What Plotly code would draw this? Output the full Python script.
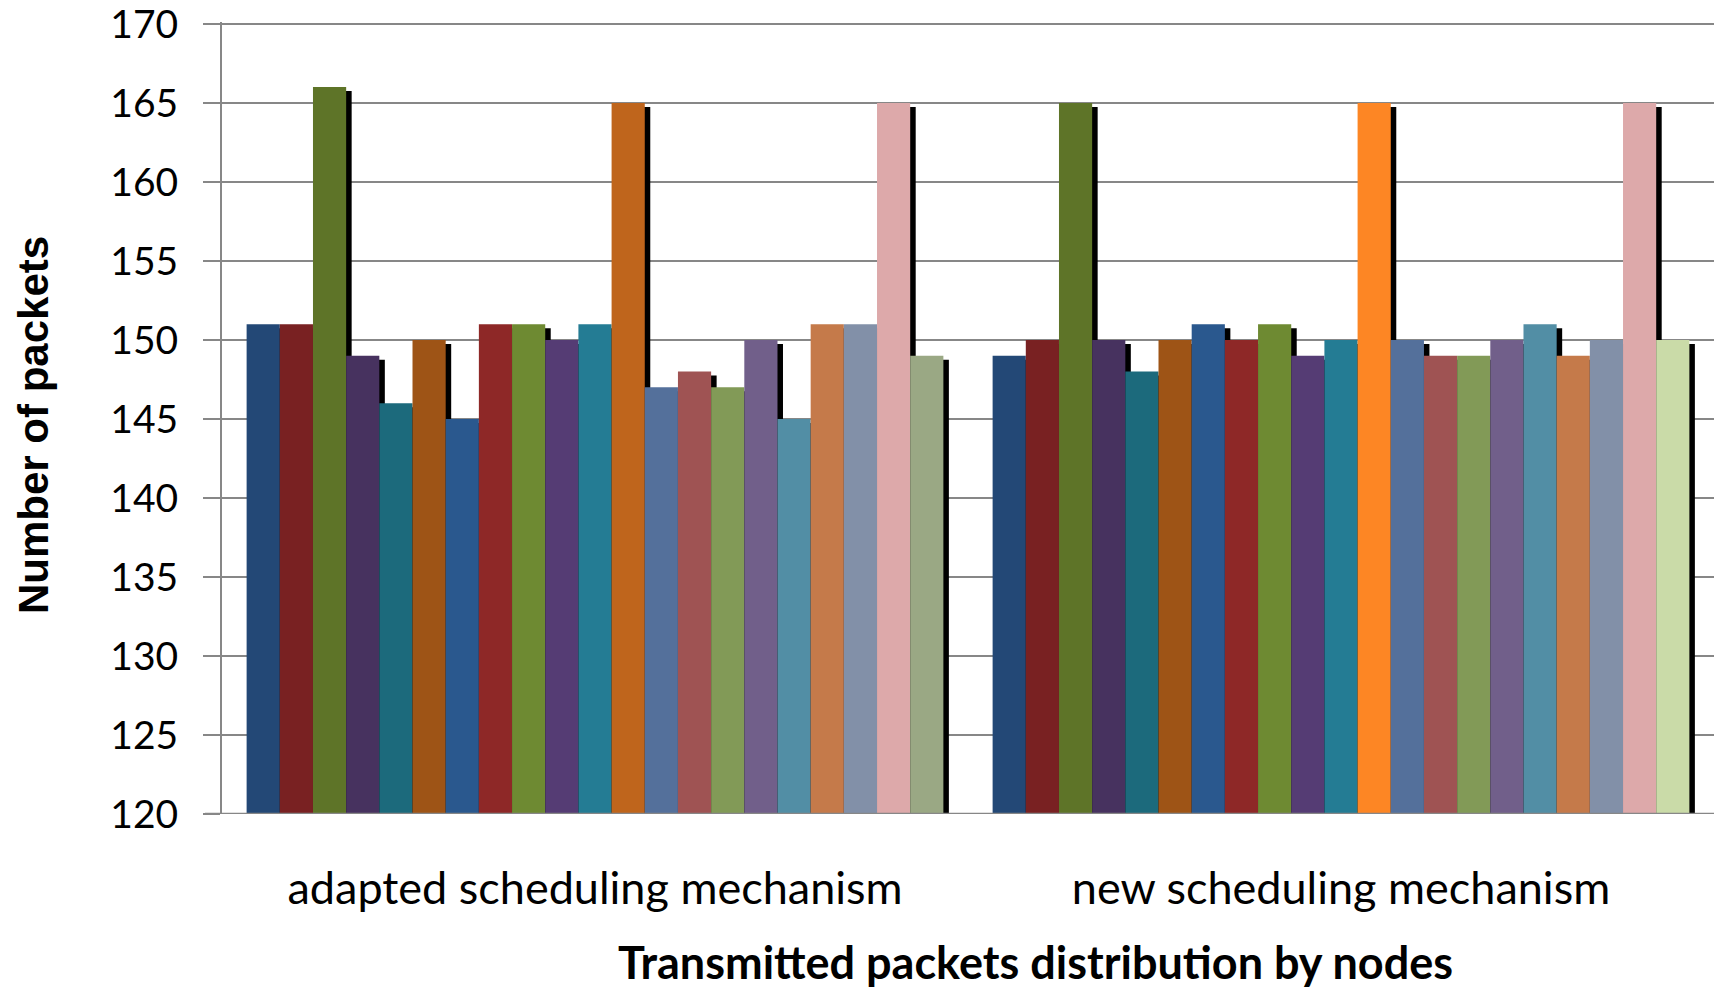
import plotly.graph_objects as go

categories = ["adapted scheduling mechanism", "new scheduling mechanism"]

adapted_values = [151, 151, 166, 149, 146, 150, 145, 151, 151, 150, 151,
                  165, 147, 148, 147, 150, 145, 151, 151, 165, 149]
new_values = [149, 150, 165, 150, 148, 150, 151, 150, 151, 149, 150,
              165, 150, 149, 149, 150, 151, 149, 150, 165, 150]

adapted_colors = ["#234876", "#792122", "#5e7428", "#47325f", "#1c6a7c", "#9e5416",
                  "#2a588e", "#8e2827", "#6e8a32", "#553c74", "#247c94", "#bf651c",
                  "#54709b", "#9f5353", "#829a57", "#715f8a", "#528ea5", "#c57a4a",
                  "#8290a8", "#dda9aa", "#9aa884"]
new_colors = ["#234876", "#792122", "#5e7428", "#47325f", "#1c6a7c", "#9e5416",
              "#2a588e", "#8e2827", "#6e8a32", "#553c74", "#247c94", "#fd8624",
              "#54709b", "#9f5353", "#829a57", "#715f8a", "#528ea5", "#c57a4a",
              "#8290a8", "#dda9aa", "#cadba8"]

y_ticks = [120, 125, 130, 135, 140, 145, 150, 155, 160, 165, 170]

W, H = 1719, 993
ML, MR, MT, MB = 222, 5, 22, 179
plot_w = W - ML - MR
plot_h = H - MT - MB
y_range = [120, 170.12]

n = len(adapted_values)
group_frac = 0.934
bw = group_frac / n
shadow_dx = 5.5 / (plot_w / 2)                        # px -> category units
shadow_dy = 4 * ((y_range[1] - y_range[0]) / plot_h)  # px -> value units

fig = go.Figure()

# shadows (drawn first, behind bars)
for j in range(n):
    off = -group_frac / 2 + j * bw
    fig.add_trace(go.Bar(
        x=categories,
        y=[adapted_values[j] - shadow_dy, new_values[j] - shadow_dy],
        width=bw, offset=off + shadow_dx,
        marker=dict(color="#000000", line=dict(width=0)),
        showlegend=False, hoverinfo="skip"))

for j in range(n):
    off = -group_frac / 2 + j * bw
    fig.add_trace(go.Bar(
        x=categories,
        y=[adapted_values[j], new_values[j]],
        width=bw, offset=off,
        marker=dict(color=[adapted_colors[j], new_colors[j]], line=dict(width=0)),
        name=f"Node {j+1}", showlegend=False))

fig.update_layout(
    width=W, height=H,
    margin=dict(l=ML, r=MR, t=MT, b=MB, pad=0, autoexpand=False),
    barmode="overlay",
    plot_bgcolor="white", paper_bgcolor="white",
    font=dict(family="Lato", color="black"),
    xaxis=dict(
        type="category", range=[-0.5, 1.5], automargin=False,
        showgrid=False, ticks="", showline=False,
        tickfont=dict(family="Lato", size=45, color="black"),
        ticklabelstandoff=44,
    ),
    yaxis=dict(
        range=y_range, tickvals=y_ticks, automargin=False,
        showgrid=True, gridcolor="#878787", gridwidth=2,
        showline=True, linecolor="#878787", linewidth=2,
        ticks="outside", ticklen=17, tickcolor="#878787", tickwidth=2,
        tickfont=dict(family="Lato", size=39, color="black"),
        ticklabelstandoff=17, ticklabeloverflow="allow",
        zeroline=False,
    ),
    annotations=[
        dict(text="<b>Number of packets</b>", textangle=-90,
             x=(33 - ML) / plot_w, y=(MT + plot_h - 425) / plot_h,
             xref="paper", yref="paper", showarrow=False,
             xanchor="center", yanchor="middle",
             font=dict(family="Liberation Sans", size=42, color="black")),
        dict(text="<b>Transmitted packets distribution by nodes</b>",
             x=(1035 - ML) / plot_w, y=(MT + plot_h - 962) / plot_h,
             xref="paper", yref="paper", showarrow=False,
             xanchor="center", yanchor="middle",
             font=dict(family="Lato", size=45, color="black")),
    ],
)

fig.add_shape(type="line", xref="paper", yref="y", x0=-17 / plot_w, x1=1,
              y0=120, y1=120, line=dict(color="#878787", width=2.5))

fig.write_html("out.html",
               config={"displayModeBar": False},
               post_script="document.body.style.margin='0px';document.body.style.overflow='hidden';")
